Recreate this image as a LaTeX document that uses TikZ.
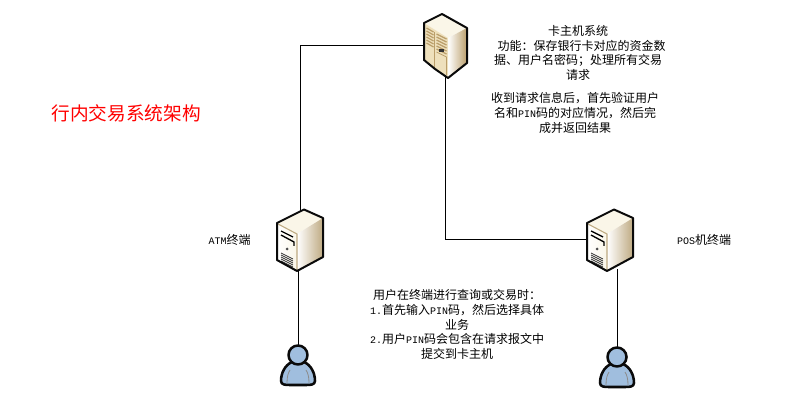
\documentclass[tikz,border=0pt]{standalone}
\usepackage{fontspec}
\setmainfont{Noto Sans CJK SC}
\newfontfamily\ascfont{Liberation Mono}
\newcommand{\asc}[1]{{\fontsize{7.5}{9}\ascfont #1}}
\definecolor{caseedge}{RGB}{10, 10, 10}
\definecolor{casecream}{RGB}{250, 246, 232}
\definecolor{casetan}{RGB}{190, 170, 130}
\definecolor{hostcream}{RGB}{238, 224, 188}
\definecolor{hosttan}{RGB}{186, 158, 106}
\definecolor{userblue}{RGB}{160, 190, 222}
\usetikzlibrary{positioning, calc}
\tikzset{
  label text/.style={inner sep=0pt, font=\fontsize{9}{11.1}\selectfont, align=center},
  link/.style={draw=black, line width=0.75pt},
  iconbox/.style={inner sep=0pt, minimum width=#1*0.75pt},
  outline/.style={draw=caseedge, line width=1.5pt, line join=round},
  pics/terminal/.style={code={
    % top, side, front
    \path[fill=casecream] (4,-30.5) -- (-23,-17) -- (-3,-6) -- (23,-22) -- cycle;
    \path[left color=white, right color=casetan] (-3,-6) -- (23,-22) -- (23,17) -- (-3,31) -- cycle;
    \path[left color=white, right color=casecream] (-23,-17) -- (-3,-6) -- (-3,31) -- (-23,20) -- cycle;
    \draw[casetan, line width=0.8pt] (-22,-16) -- (-3,-6) -- (-3,30);
    % front details
    \draw[black, line width=1pt] (-19,-9) -- (-7,-3);
    \draw[black, line width=1pt] (-19,-5) -- (-6,2) -- (-6,6);
    \fill[black!70] (-13,9) circle (1.5);
    \foreach \i in {0,1,2,3,4} {
      \draw[black!80, line width=0.6pt] (-19,13+2*\i) -- (-7,19+2*\i);
    }
    \draw[outline] (4,-30.5) -- (23,-22) -- (23,17) -- (-3,31) -- (-23,20) -- (-23,-17) -- cycle;
  }},
  pics/mainframe/.style={code={
    \path[fill=casecream] (-3.5,-32) -- (-21.5,-23) -- (2.5,-8) -- (21.5,-18) -- cycle;
    \path[left color=white, right color=hosttan] (2.5,-8) -- (21.5,-18) -- (21.5,17) -- (2.5,32) -- cycle;
    \path[fill=hostcream] (-21.5,-23) -- (2.5,-8) -- (2.5,32) -- (-10.5,23) -- (-21.5,14) -- cycle;
    % door panels
    \foreach \i in {0,1,2,3,4,5} {
      \draw[hosttan, line width=0.9pt] (-19,-18+3*\i) -- (-12,-14+3*\i);
      \draw[hosttan, line width=0.9pt] (-9,-12+3*\i) -- (1,-7+3*\i);
    }
    \draw[hosttan, line width=0.6pt] (-11,-14) -- (-11,22);
    \draw[hosttan, line width=0.6pt] (-9,6) -- (1,11) -- (1,29);
    \fill[black!80] (-7,3) rectangle (-2,6);
    \draw[outline] (-3.5,-32) -- (21.5,-18) -- (21.5,17) -- (2.5,32) -- (-10.5,23) -- (-21.5,14) -- (-21.5,-23) -- cycle;
  }},
  pics/user/.style={code={
    \draw[outline, fill=userblue, line width=1.9pt]
      (-6,-3) .. controls (-13,0) and (-17,8) .. (-17,16)
      .. controls (-17,20) and (-12,20) .. (-8,20) -- (8,20)
      .. controls (12,20) and (17,20) .. (17,16)
      .. controls (17,8) and (13,0) .. (6,-3) -- cycle;
    \draw[black!45, line width=0.6pt] (-11,18) .. controls (-11,12) and (-10,8) .. (-8,5);
    \draw[black!45, line width=0.6pt] (11,18) .. controls (11,12) and (10,8) .. (8,5);
    \draw[outline, fill=userblue, line width=1.9pt] (0,-10) circle (9.5);
  }}
}
\begin{document}
\begin{tikzpicture}[x=0.75pt, y=-0.75pt]
  \useasboundingbox[fill=white] (0,0) rectangle (809,409);

  % icon places
  \node[iconbox=43, minimum height=45pt] (host) at (445.5,46) {};
  \node[iconbox=46, minimum height=43.5pt] (atm) at (300,240) {};
  \node[iconbox=46, minimum height=43.5pt] (pos) at (610,240) {};
  \node[iconbox=34, minimum height=30pt] (atmuser) at (298,365) {};
  \node[iconbox=34, minimum height=30pt] (posuser) at (617,367) {};

  \draw[link] (host.west) -| (atm.north);
  \draw[link] (host.south) |- (pos.west);
  \draw[link] (atm.south -| atmuser.north) -- (atmuser.north);
  \draw[link] (pos.south -| posuser.north) -- (posuser.north);

  \pic at (host) {mainframe};
  \pic at (atm) {terminal};
  \pic at (pos) {terminal};
  \pic at (atmuser) {user};
  \pic at (posuser) {user};

  \node[inner sep=0pt, text=red, font=\fontsize{14}{16}\selectfont] (title) at (126,113) {行内交易系统架构};
  \node[label text] (atmlabel) at (229.5,240) {\asc{ATM}终端};
  \node[label text] (poslabel) at (704,240) {\asc{POS}机终端};
  \node[label text, anchor=north] (hostinfo) at (578,25) {卡主机系统\\
    \hspace*{0.6em}功能：保存银行卡对应的资金数\\
    据、用户名密码；处理所有交易\\
    请求};
  \node[label text, anchor=north] (hostflow) at (575,92) {收到请求信息后，首先验证用户\\
    名和\asc{PIN}码的对应情况，然后完\\
    成并返回结果};
  \node[label text, anchor=north] (usernote) at (457,289) {用户在终端进行查询或交易时：\\
    \asc{1.}首先输入\asc{PIN}码，然后选择具体\\
    业务\\
    \asc{2.}用户\asc{PIN}码会包含在请求报文中\\
    提交到卡主机};
\end{tikzpicture}
\end{document}
